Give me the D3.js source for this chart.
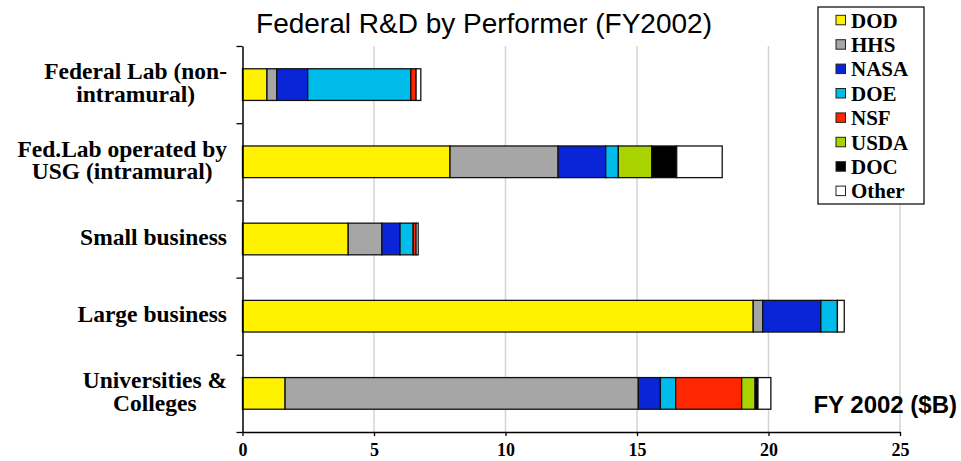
<!DOCTYPE html>
<html>
<head>
<meta charset="utf-8">
<script src="https://cdn.jsdelivr.net/npm/d3@7"></script>
<style>
  body { margin: 0; background: #fff; }
  svg { display: block; }
</style>
</head>
<body>
<svg id="chart" width="961" height="461"></svg>
<script>
// performers, top to bottom
const categories = [
  ["Federal Lab (non-", "intramural)"],
  ["Fed.Lab operated by", "USG (intramural)"],
  ["Small business"],
  ["Large business"],
  ["Universities &", "Colleges"]
];
const agencies = ["DOD", "HHS", "NASA", "DOE", "NSF", "USDA", "DOC", "Other"];
const agencyColors = ["#FFF200", "#A6A6A6", "#0A24D8", "#00BCEB", "#FF2600", "#AAD400", "#000000", "#FFFFFF"];

// $B per agency, same order as categories
const dod   = [0.93, 7.89, 4.02, 19.42, 1.62];
const hhs   = [0.37, 4.11, 1.28, 0.36, 13.43];
const nasa  = [1.18, 1.81, 0.69, 2.21, 0.84];
const doe   = [3.92, 0.48, 0.50, 0.63, 0.58];
const nsf   = [0.20, 0, 0.11, 0, 2.51];
const usda  = [0, 1.27, 0, 0, 0.51];
const doc   = [0, 0.95, 0, 0, 0.11];
const other = [0.18, 1.73, 0.08, 0.26, 0.49];
const xTicks = [0, 5, 10, 15, 20, 25];

const series = [dod, hhs, nasa, doe, nsf, usda, doc, other];
const rows = categories.map((c, i) => {
  const r = { cat: c.join(" ") };
  agencies.forEach((a, j) => r[a] = series[j][i]);
  return r;
});

const svg = d3.select("#chart");
const serif = "'Liberation Serif', 'Times New Roman', serif";
const sans = "'Liberation Sans', Arial, Helvetica, sans-serif";

const x = d3.scaleLinear().domain([0, 25]).range([242.5, 900]);
const y = d3.scaleBand().domain(rows.map(d => d.cat)).range([46, 432]);
const barH = y.bandwidth() * 0.41;
const color = d3.scaleOrdinal().domain(agencies).range(agencyColors);

// grid
svg.append("g")
  .selectAll("line")
  .data(xTicks.filter(t => t > 0))
  .join("line")
  .attr("x1", d => x(d)).attr("x2", d => x(d))
  .attr("y1", 46).attr("y2", 432)
  .attr("stroke", "#d4d4d4")
  .attr("stroke-width", 1.5);

// bars
const stacked = d3.stack().keys(agencies)(rows);
svg.append("g")
  .selectAll("g")
  .data(stacked)
  .join("g")
  .attr("fill", d => color(d.key))
  .selectAll("rect")
  .data(d => d.filter(s => s[1] - s[0] > 0))
  .join("rect")
  .attr("x", d => x(d[0]))
  .attr("y", d => y(d.data.cat) + (y.bandwidth() - barH) / 2)
  .attr("width", d => x(d[1]) - x(d[0]))
  .attr("height", barH)
  .attr("stroke", "#111")
  .attr("stroke-width", 1.3);

// x axis
const xAxis = svg.append("g")
  .attr("transform", "translate(0,432)")
  .call(d3.axisBottom(x).tickValues(xTicks).tickSize(4).tickSizeOuter(0));
xAxis.select(".domain").attr("stroke", "#000").attr("stroke-width", 1.5);
xAxis.selectAll(".tick line").attr("stroke", "#000").attr("stroke-width", 1.3);
xAxis.selectAll(".tick text")
  .attr("y", 24)
  .attr("dy", 0)
  .attr("font-family", serif)
  .attr("font-weight", "bold")
  .attr("font-size", "18px")
  .attr("fill", "#000");

// y axis
const yAxis = svg.append("g")
  .attr("transform", "translate(242.5,0)")
  .call(d3.axisLeft(d3.scaleLinear().domain([0, 5]).range([432, 46])).ticks(5).tickSize(6).tickSizeOuter(0).tickFormat(""));
yAxis.select(".domain").attr("stroke", "#000").attr("stroke-width", 1.5);
yAxis.selectAll(".tick line").attr("stroke", "#000").attr("stroke-width", 1.3);

// category labels: block right-aligned, lines centred within the block
const lab = svg.append("g")
  .attr("font-family", serif)
  .attr("font-weight", "bold")
  .attr("font-size", "23.5px")
  .attr("text-anchor", "middle");
rows.forEach((r, i) => {
  const lines = categories[i];
  const cy = y(r.cat) + y.bandwidth() / 2;
  const texts = lines.map((t, k) => lab.append("text")
    .attr("y", cy + 6 + (k - (lines.length - 1) / 2) * 22.5)
    .text(t));
  const w = d3.max(texts, tx => tx.node().getComputedTextLength());
  texts.forEach(tx => tx.attr("x", 227 - w / 2));
});

// title
svg.append("text")
  .attr("x", 484)
  .attr("y", 33)
  .attr("text-anchor", "middle")
  .attr("font-family", sans)
  .attr("font-size", "28px")
  .text("Federal R&D by Performer (FY2002)");

svg.append("text")
  .attr("x", 957)
  .attr("y", 413)
  .attr("text-anchor", "end")
  .attr("font-family", sans)
  .attr("font-weight", "bold")
  .attr("font-size", "24px")
  .text("FY 2002 ($B)");

// legend
const lg = svg.append("g");
lg.append("rect")
  .attr("x", 818).attr("y", 7)
  .attr("width", 106).attr("height", 197)
  .attr("fill", "#fff")
  .attr("stroke", "#000")
  .attr("stroke-width", 1.2);
const item = lg.selectAll("g.item")
  .data(agencies)
  .join("g")
  .attr("class", "item")
  .attr("transform", (d, i) => `translate(836,${20 + i * 24.4})`);
item.append("rect")
  .attr("x", 0).attr("y", -4.7)
  .attr("width", 9.5).attr("height", 9.5)
  .attr("fill", d => color(d))
  .attr("stroke", "#222")
  .attr("stroke-width", 1);
item.append("text")
  .attr("x", 15)
  .attr("y", 7.5)
  .attr("font-family", serif)
  .attr("font-weight", "bold")
  .attr("font-size", "21px")
  .text(d => d);
</script>
</body>
</html>
